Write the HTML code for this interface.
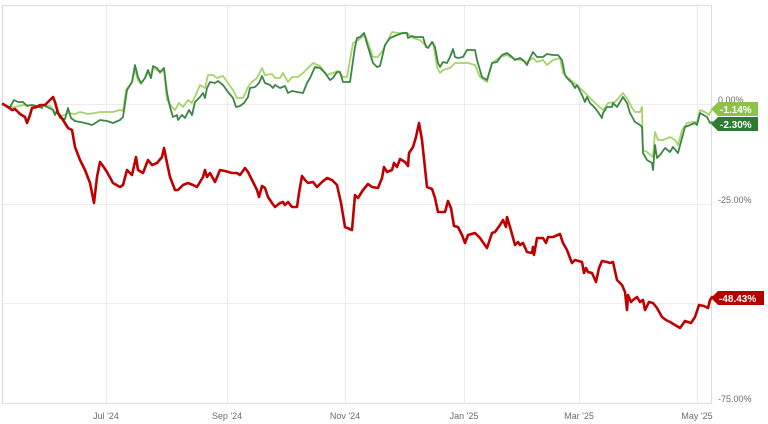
<!DOCTYPE html>
<html><head><meta charset="utf-8"><style>
html,body{margin:0;padding:0;background:#fff;}
svg{display:block;}
text{font-family:"Liberation Sans",sans-serif;}
</style></head><body>
<svg width="768" height="424" viewBox="0 0 768 424" xmlns="http://www.w3.org/2000/svg">
<rect x="0" y="0" width="768" height="424" fill="#fff"/>
<g stroke="#ececec" stroke-width="1" fill="none">
<line x1="106.5" y1="5" x2="106.5" y2="403"/>
<line x1="227.5" y1="5" x2="227.5" y2="403"/>
<line x1="345.5" y1="5" x2="345.5" y2="403"/>
<line x1="464.5" y1="5" x2="464.5" y2="403"/>
<line x1="579.5" y1="5" x2="579.5" y2="403"/>
<line x1="697.5" y1="5" x2="697.5" y2="403"/>
<line x1="2" y1="104.5" x2="711" y2="104.5"/>
<line x1="2" y1="204.5" x2="711" y2="204.5"/>
<line x1="2" y1="303.5" x2="711" y2="303.5"/>
</g>
<rect x="2.5" y="5.5" width="709" height="398" fill="none" stroke="#dedede" stroke-width="1.2"/>
<g font-size="9" fill="#6b6b6b">
<text x="718" y="103">0.00%</text>
<text x="718" y="203">-25.00%</text>
<text x="718" y="302">-50.00%</text>
<text x="718" y="402">-75.00%</text>
<g text-anchor="middle">
<text x="106" y="419">Jul '24</text>
<text x="227" y="419">Sep '24</text>
<text x="345" y="419">Nov '24</text>
<text x="464" y="419">Jan '25</text>
<text x="579" y="419">Mar '25</text>
<text x="697" y="419">May '25</text>
</g>
</g>
<g fill="none" stroke-linejoin="round" stroke-linecap="round">
<polyline stroke="#a5d46a" stroke-width="1.8" points="3,105 10,107 15,107 23,105 30,105 37,107 43,105 50,106 55,112 62,116 68,113 75,114 80,112 88,114 95,113 100,112 107,112 113,112 120,110 123,111 126,90 132,82 135,70 138,80 141,84 145,78 148,72 151,78 153,68 157,70 160,73 164,70 167,100 172,107 175,110 179,103 183,107 188,100 192,103 197,92 200,85 205,88 208,75 213,75 217,78 223,76 228,83 233,90 237,98 243,98 248,87 252,82 257,78 262,68 265,75 272,74 275,78 280,78 283,73 288,82 292,77 298,77 303,73 308,68 313,63 320,66 327,75 333,73 338,71 343,77 347,77 353,43 358,40 365,35 368,43 373,57 378,57 383,50 392,32 398,33 407,33 413,38 420,40 423,43 428,47 433,42 437,67 440,73 443,70 450,68 455,63 462,63 468,63 475,65 480,77 487,82 492,63 500,57 507,55 512,58 520,60 527,62 533,58 537,62 543,60 547,65 553,60 560,58 563,73 567,77 573,82 580,88 587,95 595,103 603,110 608,103 615,102 623,93 628,100 632,108 635,112 640,112 642,107 643,150 647,152 653,157 655,132 658,140 663,140 670,137 675,140 678,145 682,130 687,123 693,122 697,122 700,110 705,112 709,115 712,109"/>
<polyline stroke="#3d8546" stroke-width="1.8" points="3,104 7,107 10,107 14,100 18,102 23,102 27,106 32,105 37,106 42,108 43,105 47,107 53,110 55,115 57,111 60,118 65,119 68,108 71,118 75,121 80,122 85,123 92,125 97,122 100,120 107,121 113,123 120,120 123,117 127,90 132,82 135,65 138,77 141,83 145,78 148,70 151,78 153,66 157,68 160,72 164,68 167,93 170,107 173,117 177,115 178,120 182,115 185,118 189,110 192,115 195,102 200,97 203,93 205,98 207,88 210,82 215,83 218,81 223,85 228,92 233,98 236,107 240,106 244,103 248,97 250,88 255,87 259,83 262,76 265,83 270,85 273,88 275,85 280,88 285,86 288,93 292,91 297,92 303,93 307,83 310,78 315,67 320,68 325,73 330,80 333,78 337,72 340,72 343,82 350,82 355,47 357,38 360,37 364,33 368,47 373,63 377,67 380,66 385,45 390,38 397,35 403,33 407,33 408,38 412,36 415,37 420,37 423,37 426,47 428,48 432,42 435,47 438,63 440,67 443,62 447,63 450,57 453,49 455,57 458,58 463,57 467,50 472,50 475,50 477,60 482,77 487,80 490,70 492,63 497,62 502,55 507,53 512,57 515,60 520,58 523,60 527,65 530,58 533,52 537,57 543,57 547,54 553,55 558,55 562,60 565,75 567,78 572,83 575,88 577,85 582,95 585,102 587,97 590,103 595,108 598,112 602,118 603,113 607,107 612,107 613,103 617,107 620,102 623,97 627,103 630,113 635,122 640,125 642,127 643,153 647,160 652,163 653,170 655,145 657,158 660,155 665,148 670,152 673,147 678,153 682,138 685,127 690,125 695,123 697,125 700,113 707,117 710,123 712,122"/>
<polyline stroke="#c00000" stroke-width="2.6" points="3,104 8,107 12,110 15,109 20,114 25,117 27,123 30,115 32,108 37,107 40,105 45,105 50,100 53,97 55,102 58,113 63,120 68,128 72,130 75,147 80,160 85,170 90,183 94,203 97,177 100,162 103,166 107,172 113,183 120,187 123,185 127,170 132,175 136,157 138,170 143,173 148,160 152,165 157,163 162,157 164,148 167,163 170,177 175,190 178,190 183,185 188,183 193,185 197,187 200,182 203,177 205,170 207,177 210,173 215,182 220,170 225,171 232,173 237,173 240,175 245,168 248,172 253,182 257,190 259,197 262,186 265,188 268,197 272,203 275,207 280,203 283,202 285,205 288,202 292,207 297,207 299,193 302,176 305,180 308,183 313,182 317,187 322,182 327,178 332,180 337,185 341,203 345,227 352,230 355,195 358,198 363,190 368,184 372,187 378,188 382,178 384,167 387,172 392,170 394,163 397,167 400,159 405,162 408,166 409,153 413,147 416,137 419,123 422,140 427,187 432,189 435,198 438,212 445,212 448,201 451,208 454,226 458,227 462,235 465,243 468,235 475,233 480,238 487,248 492,233 495,232 500,225 503,220 506,227 507,217 510,227 515,245 518,242 520,245 523,243 527,252 532,253 533,247 534,255 537,238 543,238 546,243 548,237 553,237 560,234 563,243 567,250 570,258 572,263 575,260 582,262 584,273 586,268 588,272 592,273 596,282 599,268 602,261 607,262 610,263 613,262 617,280 622,285 625,292 627,310 628,295 631,302 633,300 637,297 640,302 643,300 645,310 649,302 653,303 657,308 662,317 666,320 670,322 675,325 680,328 685,321 691,323 695,317 699,305 704,306 708,308 710,300 712,297"/>
</g>
<polygon points="711,109 718,102 758,102 758,116 718,116" fill="#8cc24a"/>
<polygon points="711,124 718,117 758,117 758,131 718,131" fill="#2e7a33"/>
<polygon points="711,298 718,291 764,291 764,305 718,305" fill="#b50000"/>
<g font-size="10" font-weight="bold" fill="#fff">
<text x="720" y="113">-1.14%</text>
<text x="720" y="128">-2.30%</text>
<text x="719" y="302">-48.43%</text>
</g>
</svg>
</body></html>
